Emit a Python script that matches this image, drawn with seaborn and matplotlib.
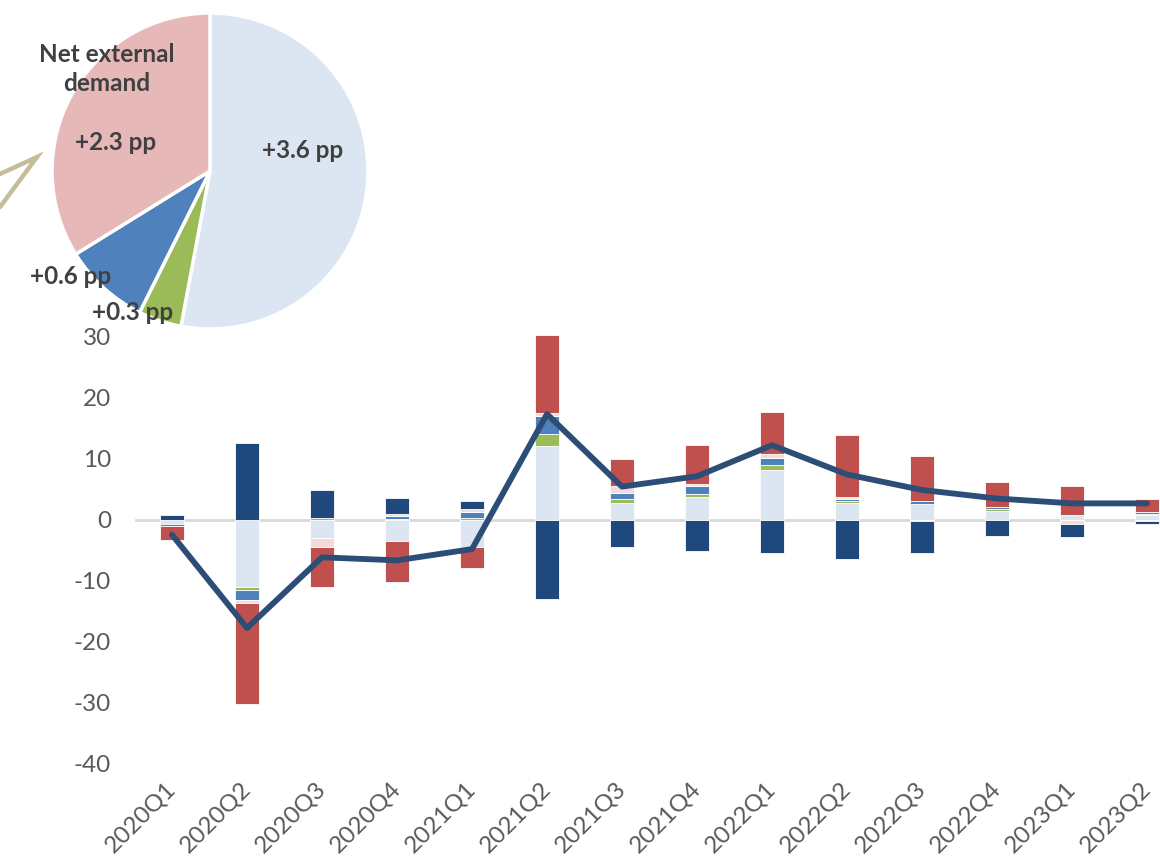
import numpy as np
import pandas as pd
import matplotlib
matplotlib.use("Agg")
import matplotlib.pyplot as plt
from matplotlib.lines import Line2D
import matplotlib.transforms as mtransforms
import seaborn as sns

# Quarterly contributions to GDP growth (pp)
quarters = ["2020Q1", "2020Q2", "2020Q3", "2020Q4", "2021Q1", "2021Q2", "2021Q3",
            "2021Q4", "2022Q1", "2022Q2", "2022Q3", "2022Q4", "2023Q1", "2023Q2"]
consumption = [-0.7, -11.0, -3.0, -3.45, -4.5, 12.1, 2.7, 3.7, 8.2, 2.75, 2.5, 1.4, 0.8, 0.75]
government = [0.0, -0.55, 0.3, 0.15, 0.25, 1.9, 0.65, 0.45, 0.7, 0.25, 0.05, 0.35, 0.0, 0.2]
investment = [-0.3, -1.6, 0.0, 0.4, 1.0, 3.0, 0.95, 1.35, 1.2, 0.3, 0.45, 0.25, 0.0, 0.25]
inventories = [-0.1, -0.55, -1.5, 0.3, 0.4, 0.5, 1.2, 0.4, 0.6, 0.4, -0.3, 0.0, -0.75, -0.2]
exports = [-2.2, -16.6, -6.6, -6.8, -3.4, 12.8, 4.4, 6.3, 7.0, 10.2, 7.35, 4.15, 4.7, 2.2]
imports = [0.8, 12.5, 4.6, 2.7, 1.4, -13.0, -4.5, -5.1, -5.5, -6.5, -5.2, -2.7, -2.1, -0.55]
gdp = [-2.5, -17.8, -6.2, -6.7, -4.85, 17.3, 5.4, 7.1, 12.2, 7.4, 4.85, 3.45, 2.65, 2.65]

# Pie: average contributions
pie_values = [3.6, 0.3, 0.6, 2.3]
pie_colors = ["#DCE6F2", "#9BBB59", "#4F81BD", "#E6B9B8"]

series = [
    (consumption, "#DCE6F2"),
    (government, "#9BBB59"),
    (investment, "#4F81BD"),
    (inventories, "#F2DCDB"),
    (exports, "#C0504D"),
    (imports, "#1F497D"),
]

sns.set_theme(style="white")
plt.rcParams["font.family"] = ["Lato", "DejaVu Sans"]
plt.rcParams["axes.unicode_minus"] = False

W, H = 1160, 858
fig = plt.figure(figsize=(W / 100, H / 100), dpi=100)

# main axes: ylim -40..31, value 30 at y=336.7px, -40 at y=763.3px
px_per_unit = (763.3 - 336.7) / 70
top_px = 763.3 - 71 * px_per_unit
ax = fig.add_axes([134.5 / W, (H - 763.3) / H, 1050 / W, (763.3 - top_px) / H])

pos_base = np.zeros(len(quarters))
neg_base = np.zeros(len(quarters))
for values, color in series:
    v = np.asarray(values, dtype=float)
    bottom = np.where(v >= 0, pos_base, neg_base)
    df = pd.DataFrame({"quarter": quarters, "value": v})
    sns.barplot(data=df, x="quarter", y="value", order=quarters, color=color,
                saturation=1, width=0.31, errorbar=None, bottom=bottom,
                edgecolor="white", linewidth=0.6, ax=ax, zorder=2)
    pos_base = pos_base + np.clip(v, 0, None)
    neg_base = neg_base + np.clip(v, None, 0)

ax.axhline(0, color="#D9D9D9", linewidth=2, zorder=1)

sns.lineplot(x=np.arange(len(quarters)), y=gdp, color="#2C4D75", linewidth=4.2,
             ax=ax, zorder=3, solid_capstyle="round", solid_joinstyle="round")

ax.set_xlim(-0.5, len(quarters) - 0.5)
ax.set_ylim(-40, 31)
ax.set_yticks(np.arange(-40, 31, 10))
ax.set_xticks(np.arange(len(quarters)))
ax.set_xticklabels(quarters, rotation=45, ha="right", va="center", rotation_mode="anchor")
shift = mtransforms.ScaledTranslation(5 / 100, 0, fig.dpi_scale_trans)
for lbl in ax.get_xticklabels():
    lbl.set_transform(lbl.get_transform() + shift)
ax.set_xlabel("")
ax.set_ylabel("")
for s in ax.spines.values():
    s.set_visible(False)
ax.tick_params(axis="y", length=0, pad=17, labelsize=17.5, labelcolor="#595959")
ax.tick_params(axis="x", length=0, pad=16, labelsize=17.5, labelcolor="#595959")
ax.grid(False)

# pie inset
cx, cy, r = 210, 171, 158
pax = fig.add_axes([(cx - r) / W, (H - cy - r) / H, 2 * r / W, 2 * r / H])
pax.pie(pie_values, colors=pie_colors, startangle=90, counterclock=False, radius=1,
        wedgeprops=dict(edgecolor="white", linewidth=2.5))
pax.set_xlim(-1, 1)
pax.set_ylim(-1, 1)
pax.set_aspect("equal")
pax.axis("off")


def to_pie(px, py):
    return (px - cx) / r, (cy - py) / r


lab_kw = dict(ha="center", va="center", fontsize=17.5, fontweight="bold", color="#404040")
pax.text(*to_pie(107, 69), "Net external\ndemand", linespacing=1.3, **lab_kw)
pax.text(*to_pie(116, 142), f"+{pie_values[3]:.1f} pp", **lab_kw)
pax.text(*to_pie(303, 150), f"+{pie_values[0]:.1f} pp", **lab_kw)
pax.text(*to_pie(71, 277), f"+{pie_values[2]:.1f} pp", **lab_kw)
pax.text(*to_pie(133, 312), f"+{pie_values[1]:.1f} pp", **lab_kw)

# callout pointer towards the pie
pts = np.array([(0, 207), (37, 157), (0, 174)], dtype=float)
fig.add_artist(Line2D(pts[:, 0] / W, 1 - pts[:, 1] / H, transform=fig.transFigure,
                      color="#C4BD97", linewidth=3.2, solid_joinstyle="miter"))

fig.savefig("out.png", dpi=100)
